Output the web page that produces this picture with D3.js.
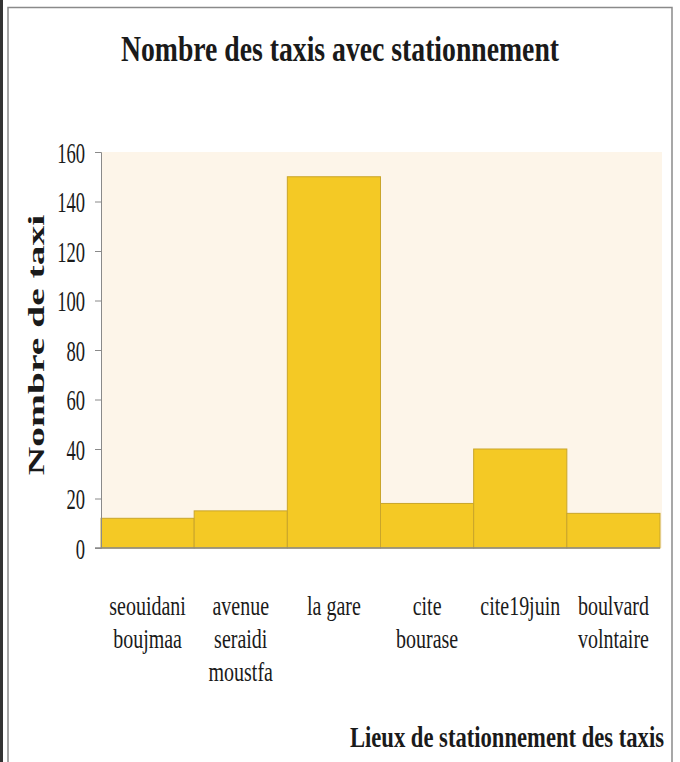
<!DOCTYPE html>
<html>
<head>
<meta charset="utf-8">
<script src="https://cdn.jsdelivr.net/npm/d3@7"></script>
<style>
  html, body { margin: 0; padding: 0; background: #fff; }
  svg { display: block; }
  text { font-family: "Liberation Serif", "DejaVu Serif", serif; fill: #1a1a1a; }
</style>
</head>
<body>
<svg id="chart" width="680" height="762"></svg>
<script>
// Parking places (each label line separated by "|")
const categories = [
  "seouidani|boujmaa",
  "avenue|seraidi|moustfa",
  "la gare",
  "cite|bourase",
  "cite19juin",
  "boulvard|volntaire"
];
// Number of taxis at each place
const taxis = [12, 15, 150, 18, 40, 14];
const yTicks = [0, 20, 40, 60, 80, 100, 120, 140, 160];

const titleText = "Nombre des taxis avec stationnement";
const yTitle = "Nombre de taxi";
const xTitle = "Lieux de stationnement des taxis";

const svg = d3.select("#chart");
const W = 680, H = 762;
const plot = { left: 101, right: 660, top: 152, bottom: 548 };

// narrow text: place it at (x, y) then scale it horizontally by k
function narrowText(parent, x, y, k, str) {
  return parent.append("text")
    .attr("transform", `translate(${x},${y}) scale(${k},1)`)
    .text(str);
}

// outer frame
svg.append("line").attr("x1", 1.5).attr("x2", 1.5).attr("y1", 0).attr("y2", H)
  .attr("stroke", "#333").attr("stroke-width", 3);
svg.append("path")
  .attr("d", `M8,${H} L8,7.5 L672,7.5 L672,${H}`)
  .attr("fill", "none").attr("stroke", "#8a8a8a").attr("stroke-width", 1.5);

const x = d3.scaleBand().domain(categories).range([plot.left, plot.right]).padding(0);
const y = d3.scaleLinear().domain([0, 160]).range([plot.bottom, plot.top]);

// plot area background
svg.append("rect")
  .attr("x", plot.left).attr("y", plot.top)
  .attr("width", plot.right - plot.left + 2).attr("height", plot.bottom - plot.top)
  .attr("fill", "#fdf5e9");

// bars
svg.append("g").selectAll("rect").data(categories).join("rect")
  .attr("x", d => x(d))
  .attr("y", (d, i) => y(taxis[i]))
  .attr("width", x.bandwidth())
  .attr("height", (d, i) => y(0) - y(taxis[i]))
  .attr("fill", "#f4c925")
  .attr("stroke", "#c9a52a")
  .attr("stroke-width", 1);

// y axis
const yAxis = svg.append("g")
  .attr("transform", `translate(${plot.left},0)`)
  .call(d3.axisLeft(y).tickValues(yTicks).tickSize(6).tickPadding(10).tickFormat(d3.format("d")));
yAxis.select(".domain").attr("stroke", "#8a8a8a");
yAxis.selectAll(".tick line").attr("stroke", "#8a8a8a");
yAxis.selectAll(".tick text")
  .attr("font-size", 29)
  .attr("font-family", "Liberation Serif, serif").attr("fill", "#1a1a1a")
  .attr("x", null).attr("dy", null)
  .attr("transform", "translate(-16,10) scale(0.64,1)");

// x baseline
svg.append("line")
  .attr("x1", plot.left - 6).attr("x2", plot.right)
  .attr("y1", plot.bottom).attr("y2", plot.bottom)
  .attr("stroke", "#8a8a8a").attr("stroke-width", 1.5);

// category labels, centred under each bar
const catG = svg.append("g")
  .attr("text-anchor", "middle").attr("font-size", 27).attr("fill", "#1f1f1f");
categories.forEach(c => {
  c.split("|").forEach((ln, j) => {
    narrowText(catG, x(c) + x.bandwidth() / 2, 615 + j * 33, 0.74, ln);
  });
});

// title
narrowText(svg, 340, 61, 0.77, titleText)
  .attr("text-anchor", "middle")
  .attr("font-size", 36).attr("font-weight", "bold")
  .attr("fill", "#161616");

// y title, stretched along its length
svg.append("text")
  .attr("transform", `translate(44,${(205 + 485) / 2}) rotate(-90) scale(1.72,1)`)
  .attr("text-anchor", "middle")
  .attr("font-size", 23).attr("font-weight", "bold")
  .attr("fill", "#1a1a1a")
  .text(yTitle);

// x title
narrowText(svg, 664, 747, 0.78, xTitle)
  .attr("text-anchor", "end")
  .attr("font-size", 29).attr("font-weight", "bold")
  .attr("fill", "#161616");
</script>
</body>
</html>
